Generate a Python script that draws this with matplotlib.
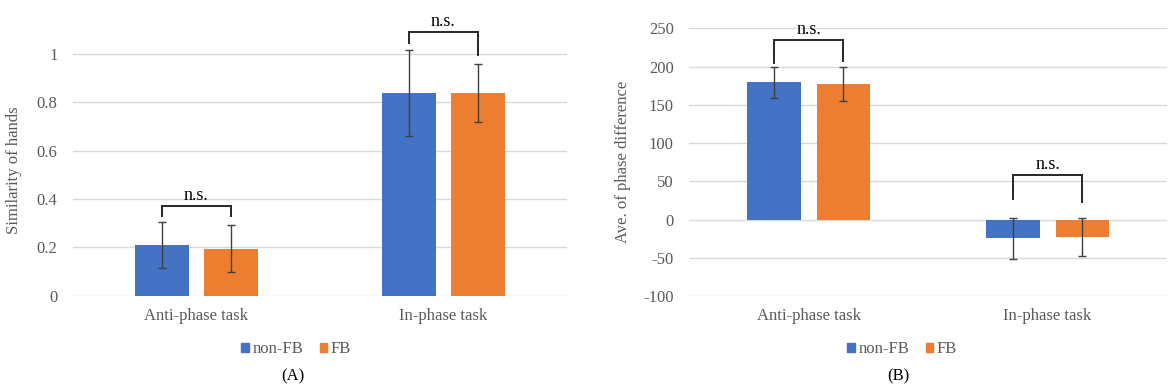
import matplotlib
matplotlib.use("Agg")
import matplotlib.pyplot as plt
from matplotlib.patches import Patch
import numpy as np

plt.rcParams['font.family'] = ['Liberation Serif', 'DejaVu Serif']

# data
tasks = ['Anti-phase task', 'In-phase task']
groups = ['non-FB', 'FB']

sim_nonfb = [0.209, 0.839]
sim_fb = [0.194, 0.839]
sim_nonfb_sd = [0.094, 0.177]
sim_fb_sd = [0.098, 0.120]

phase_nonfb = [179.2, -24.8]
phase_fb = [177.4, -22.7]
phase_nonfb_sd = [20.8, 26.5]
phase_fb_sd = [22.0, 25.0]

# significance brackets: (task index, bracket top, left leg end, right leg end)
sig_a = [(0, 0.371, 0.329, 0.329), (1, 1.088, 1.045, 0.995)]
sig_b = [(0, 234.5, 205, 207), (1, 57.8, 27.4, 23.0)]

BLUE = '#4472C4'
ORANGE = '#ED7D31'
GRAY = '#595959'
GRID = '#D9D9D9'


def draw_panel(ax, nonfb, fb, nonfb_sd, fb_sd, sigs, width, off, ylim, yticks, ylabel, ylab_xy):
    x = np.arange(len(tasks))
    ax.bar(x - off, nonfb, width, color=BLUE, zorder=2)
    ax.bar(x + off, fb, width, color=ORANGE, zorder=2)
    ax.errorbar(x - off, nonfb, yerr=nonfb_sd, fmt='none', ecolor='#404040',
                elinewidth=1, capsize=3, capthick=1, zorder=3)
    ax.errorbar(x + off, fb, yerr=fb_sd, fmt='none', ecolor='#404040',
                elinewidth=1, capsize=3, capthick=1, zorder=3)

    # n.s. brackets between the two groups
    for i, top, left_end, right_end in sigs:
        xl, xr = i - off, i + off
        ax.plot([xl, xl, xr, xr], [left_end, top, top, right_end],
                color='#262626', lw=1.4, clip_on=False, zorder=4,
                solid_joinstyle='miter')
        ax.annotate('n.s.', xy=(i, top), xytext=(0, 1.5), textcoords='offset points',
                    ha='center', va='bottom', fontsize=13, color='black', zorder=5)

    ax.set_xlim(-0.5, len(tasks) - 0.5)
    ax.set_ylim(*ylim)
    ax.set_yticks(yticks)
    ax.set_yticklabels([('%g' % t) for t in yticks])
    ax.set_xticks(x)
    ax.set_xticklabels(tasks)
    ax.tick_params(axis='both', length=0, labelsize=12, labelcolor=GRAY)
    ax.tick_params(axis='y', pad=11)
    ax.tick_params(axis='x', pad=9)
    ax.yaxis.grid(True, color=GRID, lw=1)
    ax.set_axisbelow(True)
    for s in ax.spines.values():
        s.set_visible(False)
    ax.set_ylabel(ylabel, fontsize=12, color=GRAY)
    ax.yaxis.set_label_coords(*ylab_xy)


fig = plt.figure(figsize=(11.7, 3.91), dpi=100)

ax1 = fig.add_axes([0.0621, 0.2437, 0.4222, 0.7427])
draw_panel(ax1, sim_nonfb, sim_fb, sim_nonfb_sd, sim_fb_sd, sig_a,
           0.219, 0.14, (0, 1.2), [0, 0.2, 0.4, 0.6, 0.8, 1],
           'Similarity of hands', (-0.103, 0.433))

ax2 = fig.add_axes([0.589, 0.2430, 0.4085, 0.6846])
draw_panel(ax2, phase_nonfb, phase_fb, phase_nonfb_sd, phase_fb_sd, sig_b,
           0.223, 0.145, (-100, 250), [-100, -50, 0, 50, 100, 150, 200, 250],
           'Ave. of phase difference', (-0.122, 0.5))

handles = [Patch(color=BLUE), Patch(color=ORANGE)]
for cx, cap in [(0.253, '(A)'), (0.771, '(B)')]:
    leg = fig.legend(handles, groups, loc='center', bbox_to_anchor=(cx, 0.107),
                     ncol=2, frameon=False, fontsize=12, handlelength=0.45,
                     handleheight=0.45, handletextpad=0.2, columnspacing=1.0)
    for t in leg.get_texts():
        t.set_color(GRAY)
    fig.text(cx - 0.003, 0.038, cap, ha='center', va='center', fontsize=12, color='black')

fig.savefig('out.png', dpi=100)
